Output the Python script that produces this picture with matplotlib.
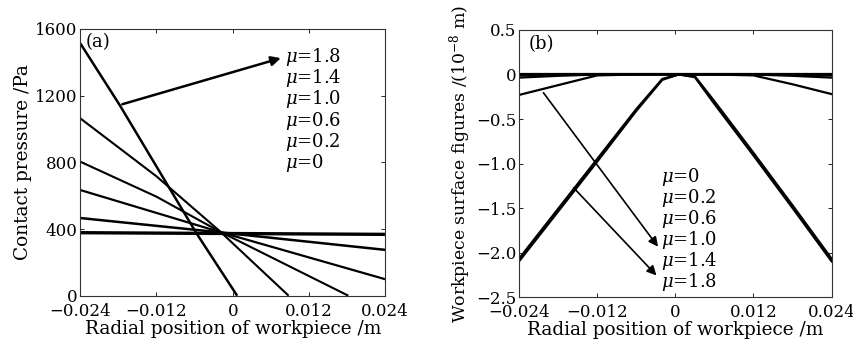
import numpy as np
import matplotlib
matplotlib.use("Agg")
import matplotlib.pyplot as plt

plt.rcParams["font.family"] = ["DejaVu Serif"]
plt.rcParams["mathtext.fontset"] = "dejavuserif"
plt.rcParams["font.size"] = 12.5

# ---- panel (a): contact pressure, knots ----
mu_labels = ["0", "0.2", "0.6", "1.0", "1.4", "1.8"]
pa_x = {
    "0":   [-0.024, 0.024],
    "0.2": [-0.024, -0.002, 0.024],
    "0.6": [-0.024, -0.002, 0.024],
    "1.0": [-0.024, -0.012, -0.002, 0.0182],
    "1.4": [-0.024, -0.012, -0.002, 0.0088],
    "1.8": [-0.024, -0.0178, -0.0057, 0.0007],
}
pa_p = {
    "0":   [378, 368],
    "0.2": [466, 380, 275],
    "0.6": [634, 382, 99],
    "1.0": [804, 594, 384, 0],
    "1.4": [1064, 716, 386, 0],
    "1.8": [1514, 1144, 374, 0],
}
pa_lw = {"0": 2.4, "0.2": 1.8, "0.6": 1.6, "1.0": 1.5, "1.4": 1.5, "1.8": 1.8}

# ---- panel (b): surface figure (1e-8 m) ----
xb = [-0.024, -0.018, -0.012, -0.006, -0.002, 0.0005, 0.003, 0.006, 0.012, 0.018, 0.024]
sb = {
    "0":   [0, 0, 0, 0, 0, 0, 0, 0, 0, 0, 0],
    "0.2": [-0.01, -0.005, 0, 0, 0, 0, 0, 0, 0, -0.005, -0.01],
    "0.6": [-0.035, -0.015, 0, 0, 0, 0, 0, 0, 0, -0.015, -0.035],
    "1.0": [-0.23, -0.12, -0.01, 0, 0, 0, 0, 0, -0.01, -0.11, -0.22],
    "1.4": [-2.07, -1.51, -0.95, -0.39, -0.05, 0.0, -0.02, -0.30, -0.88, -1.47, -2.07],
    "1.8": [-2.10, -1.54, -0.98, -0.41, -0.06, 0.0, -0.03, -0.33, -0.91, -1.50, -2.10],
}

xticks = [-0.024, -0.012, 0, 0.012, 0.024]
xtick_labels = ["\u22120.024", "\u22120.012", "0", "0.012", "0.024"]
ya_ticks = [0, 400, 800, 1200, 1600]
yb_ticks = [0.5, 0, -0.5, -1.0, -1.5, -2.0, -2.5]
yb_labels = ["0.5", "0", "\u22120.5", "\u22121.0", "\u22121.5", "\u22122.0", "\u22122.5"]

fig = plt.figure(figsize=(8.54, 3.44), dpi=100)
ax1 = fig.add_axes([0.094, 0.1404, 0.357, 0.7753])
ax2 = fig.add_axes([0.6077, 0.1366, 0.3661, 0.7762])

for ax in (ax1, ax2):
    ax.set_xlim(-0.024, 0.024)
    ax.set_xticks(xticks)
    ax.set_xticklabels(xtick_labels)
    ax.tick_params(direction="in", top=True, right=True, length=3, width=0.6,
                   labelsize=12)
    ax.tick_params(axis="x", pad=5)
    ax.tick_params(axis="y", pad=2)
    for sp in ax.spines.values():
        sp.set_linewidth(0.8)
        sp.set_color("#333333")

# (a)
for m in mu_labels:
    ax1.plot(pa_x[m], pa_p[m], color="black", lw=pa_lw[m], solid_capstyle="butt")
ax1.set_ylim(0, 1600)
ax1.set_yticks(ya_ticks)
ax1.set_xlabel("Radial position of workpiece /m", fontsize=13.3, labelpad=0)
ax1.set_ylabel("Contact pressure /Pa", fontsize=13.3, labelpad=2)
ax1.text(-0.0232, 1520, "(a)", va="center", ha="left", fontsize=13)
ax1.annotate("", xy=(0.0080, 1430), xytext=(-0.0178, 1144),
             arrowprops=dict(arrowstyle="-|>", color="black", lw=1.8, mutation_scale=14))
for i, m in enumerate(mu_labels[::-1]):
    ax1.text(0.0083, 1434 - i * 128, "$\\mu$=" + m, va="center", ha="left", fontsize=13)

# (b)
for m in mu_labels:
    ax2.plot(xb, sb[m], color="black", lw=1.6)
ax2.set_ylim(-2.5, 0.5)
ax2.set_yticks(yb_ticks)
ax2.set_yticklabels(yb_labels)
ax2.set_xlabel("Radial position of workpiece /m", fontsize=13.3, labelpad=0)
ax2.set_ylabel("Workpiece surface figures /(10$^{-8}$ m)", fontsize=12.4, labelpad=2)
ax2.text(-0.0225, 0.34, "(b)", va="center", ha="left", fontsize=13)
ax2.annotate("", xy=(-0.0024, -1.96), xytext=(-0.0205, -0.18),
             arrowprops=dict(arrowstyle="-|>", color="black", lw=1.2, mutation_scale=14))
ax2.annotate("", xy=(-0.0026, -2.28), xytext=(-0.0159, -1.25),
             arrowprops=dict(arrowstyle="-|>", color="black", lw=1.2, mutation_scale=14))
for i, m in enumerate(mu_labels):
    ax2.text(-0.0022, -1.15 - i * 0.236, "$\\mu$=" + m, va="center", ha="left", fontsize=13)

fig.savefig("out.png", dpi=100)
